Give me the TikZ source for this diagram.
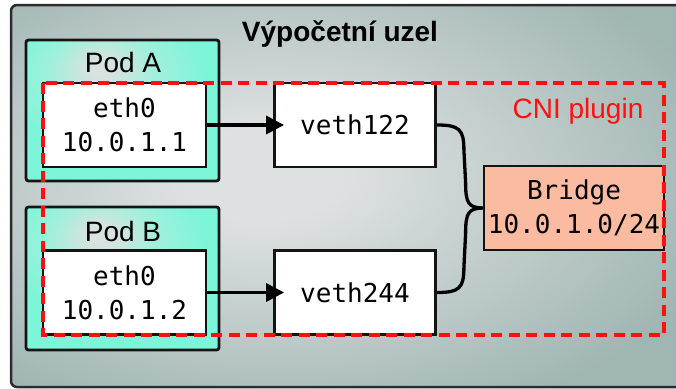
\documentclass[tikz,border=0pt]{standalone}
\usepackage{fontspec}
\setmainfont{Liberation Sans}
\newfontfamily\monof{DejaVu Sans Mono}
\usetikzlibrary{calc,arrows.meta}
\definecolor{bglight}{HTML}{DEE1E1}
\definecolor{bgdark}{HTML}{A0B6B3}
\definecolor{podlight}{HTML}{D8E2DF}
\definecolor{podmid}{HTML}{A0F0DC}
\definecolor{podteal}{HTML}{7DF5D8}
\definecolor{bridgefill}{HTML}{FBBBA0}
\definecolor{cnired}{HTML}{FF1010}
\definecolor{edge}{HTML}{141414}
\pgfdeclareradialshading{outershade}{\pgfpoint{-7bp}{3bp}}{color(0bp)=(bglight); color(6bp)=(bglight); color(33bp)=(bgdark); color(80bp)=(bgdark)}
\pgfdeclareradialshading{podshade}{\pgfpoint{-6bp}{16bp}}{color(0bp)=(podlight); color(3bp)=(podlight); color(14bp)=(podmid); color(26bp)=(podteal); color(80bp)=(podteal)}
\tikzset{
  pod/.style={draw=edge, line width=2.8pt, rounded corners=2.5pt, shading=podshade},
  ifbox/.style={draw=edge, line width=2.8pt, fill=white, minimum width=163pt, minimum height=84pt, inner sep=0pt, align=center, font=\monof\fontsize{26}{34}\selectfont},
  vbox/.style={ifbox, minimum width=161pt},
  brbox/.style={ifbox, fill=bridgefill, minimum width=180pt},
  podlabel/.style={font=\fontsize{28}{34}\selectfont, inner sep=0pt},
  arr/.style={line width=3.3pt, -{Triangle[length=18pt,width=18pt]}, shorten >=-11pt},
  conn/.style={line width=3.3pt},
  cni/.style={draw=cnired, line width=3.2pt, dash pattern=on 11pt off 6.5pt},
}
\begin{document}
\begin{tikzpicture}[x=1pt,y=-1pt]
\useasboundingbox (0,0) rectangle (676,388);
% outer node
\draw[draw=edge!90, line width=2.5pt, rounded corners=6pt, shading=outershade] (11,5) rectangle (684,387);
\node[font=\bfseries\fontsize{28}{34}\selectfont, inner sep=0pt] (title) at (340,34) {Výpočetní uzel};
% pods
\draw[pod] (26,40) rectangle (219,181);
\draw[pod] (26,207) rectangle (219,350);
\node[podlabel] (podA) at (123,62) {Pod A};
\node[podlabel] (podB) at (123,231) {Pod B};
% boxes
\node[ifbox] (ethA) at (124.5,125) {eth0\\10.0.1.1};
\node[ifbox] (ethB) at (124.5,292.5) {eth0\\10.0.1.2};
\node[vbox] (v1) at (355,125) {veth122};
\node[vbox] (v2) at (355,292.5) {veth244};
\node[brbox] (br) at (574,208) {Bridge\\10.0.1.0/24};
% arrows
\draw[arr] (ethA) -- (v1);
\draw[arr] (ethB) -- (v2);
% connectors to bridge
\coordinate (jt) at ($(br.west)+(-22,-0.5)$);
\coordinate (jb) at ($(br.west)+(-22,0.5)$);
\draw[conn] (v1.east) .. controls ($(v1.east)+(22,0)$) and ($(v1.east)+(27,4)$) .. ($(v1.east)+(27,25)$)
  -- ($(jt)+(5,-25)$) .. controls ($(jt)+(5,-4)$) and ($(jt)+(8,0)$) .. (br.west);
\draw[conn] (v2.east) .. controls ($(v2.east)+(22,0)$) and ($(v2.east)+(27,-4)$) .. ($(v2.east)+(27,-25)$)
  -- ($(jb)+(5,25)$) .. controls ($(jb)+(5,4)$) and ($(jb)+(8,0)$) .. (br.west);
% CNI plugin area
\draw[cni] (43,83) rectangle (664,335);
\node[text=cnired, font=\fontsize{28}{34}\selectfont, inner sep=0pt] (cnilabel) at (578,111) {CNI plugin};
\end{tikzpicture}
\end{document}
